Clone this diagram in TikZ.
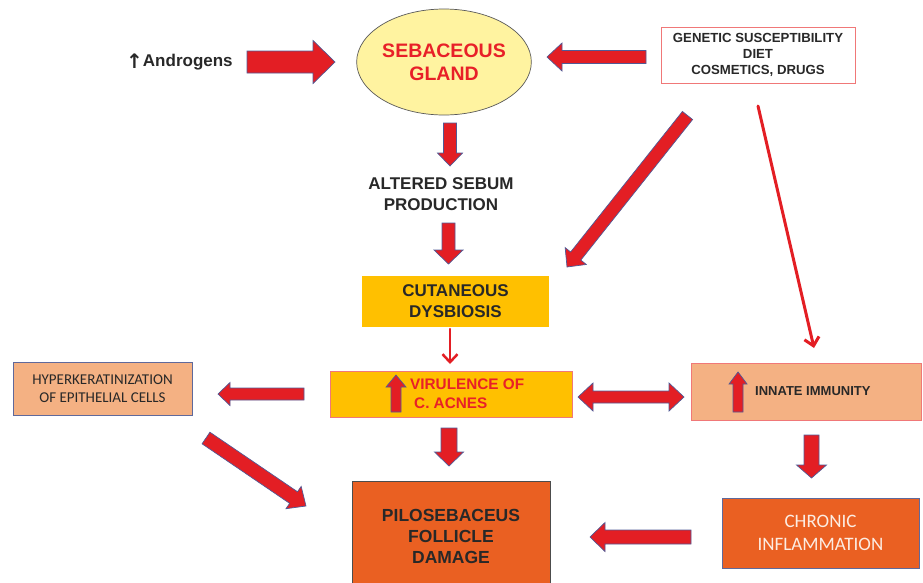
\documentclass[tikz,border=0pt]{standalone}
\usepackage{fontspec}
\setmainfont{Liberation Sans}
\newfontfamily\calib{Carlito}
\newfontfamily\dejavu{DejaVu Sans}
\usetikzlibrary{shapes.geometric,arrows.meta}
\definecolor{arrred}{RGB}{227,30,36}
\definecolor{arrblue}{RGB}{80,90,150}
\definecolor{txtdark}{RGB}{40,40,40}
\definecolor{txtred}{RGB}{232,32,40}
\definecolor{ellyellow}{RGB}{255,243,160}
\definecolor{gold}{RGB}{255,192,0}
\definecolor{peach}{RGB}{244,177,131}
\definecolor{orng}{RGB}{234,96,34}
\definecolor{pinkline}{RGB}{240,120,120}
\definecolor{slate}{RGB}{95,105,155}
\definecolor{paletxt}{RGB}{252,236,226}
\newdimen\baX
\newdimen\baY
% single block arrow: from, to, shaft width, head width, head length
\newcommand\bkarrow[5]{%
  \pgfextractx{\baX}{\pgfpointdiff{\pgfpointanchor{#1}{center}}{\pgfpointanchor{#2}{center}}}%
  \pgfextracty{\baY}{\pgfpointdiff{\pgfpointanchor{#1}{center}}{\pgfpointanchor{#2}{center}}}%
  \pgfmathsetmacro\baL{veclen(\baX,\baY)}%
  \pgfmathsetmacro\baA{atan2(\baY,\baX)}%
  \pgfmathsetmacro\baB{\baL-#5}%
  \pgfmathsetmacro\baS{#3/2}%
  \pgfmathsetmacro\baH{#4/2}%
  \draw[blockarr,shift={(#1)},rotate=\baA]
    (0pt,\baS pt) -- (\baB pt,\baS pt) -- (\baB pt,\baH pt) -- (\baL pt,0pt)
    -- (\baB pt,-\baH pt) -- (\baB pt,-\baS pt) -- (0pt,-\baS pt) -- cycle;
}
% double block arrow
\newcommand\bkdarrow[5]{%
  \pgfextractx{\baX}{\pgfpointdiff{\pgfpointanchor{#1}{center}}{\pgfpointanchor{#2}{center}}}%
  \pgfextracty{\baY}{\pgfpointdiff{\pgfpointanchor{#1}{center}}{\pgfpointanchor{#2}{center}}}%
  \pgfmathsetmacro\baL{veclen(\baX,\baY)}%
  \pgfmathsetmacro\baA{atan2(\baY,\baX)}%
  \pgfmathsetmacro\baB{\baL-#5}%
  \pgfmathsetmacro\baS{#3/2}%
  \pgfmathsetmacro\baH{#4/2}%
  \draw[blockarr,shift={(#1)},rotate=\baA]
    (0pt,0pt) -- (#5pt,\baH pt) -- (#5pt,\baS pt) -- (\baB pt,\baS pt) -- (\baB pt,\baH pt)
    -- (\baL pt,0pt) -- (\baB pt,-\baH pt) -- (\baB pt,-\baS pt) -- (#5pt,-\baS pt)
    -- (#5pt,-\baH pt) -- cycle;
}
\begin{document}
\begin{tikzpicture}[x=1pt,y=-1pt,
  blockarr/.style={fill=arrred,draw=arrblue,line width=0.7pt,line join=miter},
  box/.style={rectangle,inner sep=0pt,align=center,line width=0.8pt},
  thinred/.style={draw=arrred,line cap=round,-{Straight Barb[length=8pt,width=15pt]}}]
\useasboundingbox (0,0) rectangle (923,582);

% nodes
\node[anchor=west,inner sep=0pt,font=\fontsize{17}{20}\selectfont\bfseries,text=txtdark] (andro) at (126,62) {\raisebox{-2pt}{\dejavu\bfseries\fontsize{20}{22}\selectfont ↑}Androgens};
\node[ellipse,draw=gray!70!black,fill=ellyellow,line width=0.7pt,minimum width=174pt,minimum height=106pt,inner sep=0pt,align=center,font=\fontsize{19.5}{23}\selectfont\bfseries,text=txtred] (seb) at (444,62) {SEBACEOUS\\GLAND};
\node[box,draw=pinkline,fill=white,minimum width=194pt,minimum height=56pt,font=\fontsize{13.2}{16}\selectfont\bfseries,text=txtdark] (gen) at (758,55) {GENETIC SUSCEPTIBILITY\\DIET\\COSMETICS, DRUGS};
\node[align=center,inner sep=0pt,font=\fontsize{17}{21}\selectfont\bfseries,text=txtdark] (alt) at (441,194) {ALTERED SEBUM\\PRODUCTION};
\node[box,fill=gold,minimum width=187pt,minimum height=51pt,font=\fontsize{17}{21}\selectfont\bfseries,text=txtdark] (cut) at (455.5,301.5) {CUTANEOUS\\DYSBIOSIS};
\node[box,draw=pinkline,fill=gold,minimum width=242pt,minimum height=46pt] (vir) at (451,394) {};
\node[anchor=west,align=left,inner sep=0pt,font=\fontsize{15.3}{19}\selectfont\bfseries,text=txtred] (virtxt) at (410,394) {VIRULENCE OF\\\hspace*{4pt}C. ACNES};
\node[box,draw=slate,fill=peach,minimum width=179pt,minimum height=53pt,font=\calib\fontsize{15}{18}\selectfont,text=txtdark] (hyp) at (102.5,388.5) {HYPERKERATINIZATION\\OF EPITHELIAL CELLS};
\node[box,draw=pinkline,fill=peach,minimum width=230pt,minimum height=57pt] (inn) at (806,391.5) {};
\node[anchor=west,inner sep=0pt,font=\fontsize{13}{16}\selectfont\bfseries,text=txtdark] (inntxt) at (755,391.5) {INNATE IMMUNITY};
\node[box,draw=gray!60!black,fill=orng,minimum width=198pt,minimum height=110pt,text depth=0pt,font=\fontsize{17.5}{21}\selectfont\bfseries,text=txtdark] (pil) at (451,536) {PILOSEBACEUS\\FOLLICLE\\DAMAGE};
\node[box,draw=slate,fill=orng,minimum width=197pt,minimum height=70pt,font=\calib\fontsize{19}{23}\selectfont,text=paletxt] (chr) at (820.5,533) {CHRONIC\\INFLAMMATION};

% arrow end points
\coordinate (a1s) at (247,62);    \coordinate (a1e) at (335,62);
\coordinate (a2s) at (646,57);    \coordinate (a2e) at (547,57);
\coordinate (a3s) at (450,123);   \coordinate (a3e) at (450,166);
\coordinate (a4s) at (448.5,223); \coordinate (a4e) at (448.5,264);
\coordinate (a5s) at (687.5,115.5); \coordinate (a5e) at (567,267);
\coordinate (a6s) at (304,394);   \coordinate (a6e) at (218,394);
\coordinate (a7s) at (449,428);   \coordinate (a7e) at (449,466);
\coordinate (a8s) at (206,438);   \coordinate (a8e) at (306,506);
\coordinate (a9s) at (578,397);   \coordinate (a9e) at (684,397);
\coordinate (a10s) at (811.5,435); \coordinate (a10e) at (811.5,478);
\coordinate (a11s) at (691,537);  \coordinate (a11e) at (590,537);
\coordinate (u1s) at (396,412);   \coordinate (u1e) at (396,375);
\coordinate (u2s) at (738,412);   \coordinate (u2e) at (738,372);
\coordinate (t1s) at (758,106);   \coordinate (t1e) at (814,348);
\coordinate (t2s) at (450,329);   \coordinate (t2e) at (450,364);

% block arrows
\bkarrow{a1s}{a1e}{22}{43}{22}
\bkarrow{a2s}{a2e}{13}{28}{15}
\bkarrow{a3s}{a3e}{13}{25}{13}
\bkarrow{a4s}{a4e}{13}{29}{14}
\bkarrow{a5s}{a5e}{13}{27}{14}
\bkarrow{a6s}{a6e}{12}{23}{12}
\bkarrow{a7s}{a7e}{16}{29}{14}
\bkarrow{a8s}{a8e}{14}{27}{15}
\bkdarrow{a9s}{a9e}{12}{28}{15}
\bkarrow{a10s}{a10e}{15}{30}{13}
\bkarrow{a11s}{a11e}{14}{29}{15}
\bkarrow{u1s}{u1e}{10}{20}{12}
\bkarrow{u2s}{u2e}{10}{18}{12}

% thin arrows
\draw[thinred,line width=3pt] (t1s) -- (t1e);
\draw[thinred,line width=2.5pt] (t2s) -- (t2e);
\end{tikzpicture}
\end{document}
